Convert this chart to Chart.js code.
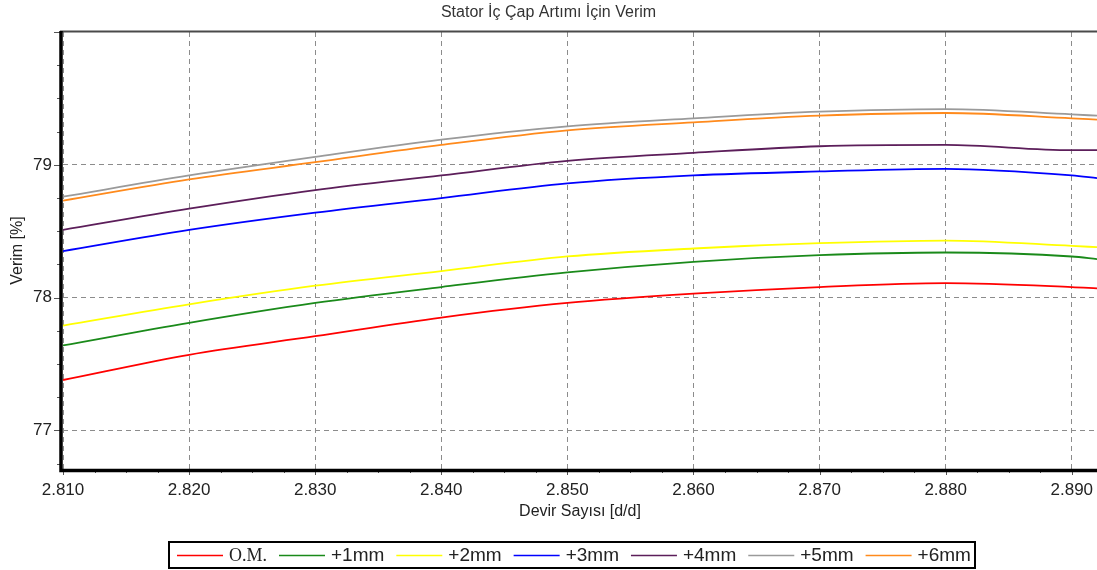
<!DOCTYPE html>
<html lang="tr">
<head>
  <meta charset="UTF-8" />
  <title>Stator İç Çap Artımı İçin Verim</title>
  <script src="https://cdn.jsdelivr.net/npm/chart.js"></script>
  <style>
    html, body {
      margin: 0;
      padding: 0;
      background: #fff;
    }
    #chart-container {
      width: 1097px;
      height: 570px;
    }
  </style>
</head>
<body>
  <div id="chart-container">
    <canvas id="verimChart" width="1097" height="570"></canvas>
  </div>

  <script>
    // devir sayısı (x) ve her seri için okunan verim değerleri
    const devir = [2.81, 2.82, 2.83, 2.84, 2.85, 2.86, 2.87, 2.88, 2.89, 2.892];
    const om   = [77.38, 77.57, 77.71, 77.85, 77.96, 78.03, 78.08, 78.11, 78.08, 78.07];
    const mm1  = [77.64, 77.81, 77.96, 78.08, 78.19, 78.27, 78.32, 78.34, 78.31, 78.29];
    const mm2  = [77.79, 77.95, 78.09, 78.20, 78.31, 78.37, 78.41, 78.43, 78.39, 78.38];
    const mm3  = [78.35, 78.51, 78.64, 78.75, 78.86, 78.92, 78.95, 78.97, 78.92, 78.90];
    const mm4  = [78.51, 78.67, 78.81, 78.92, 79.03, 79.09, 79.14, 79.15, 79.11, 79.11];
    const mm5  = [78.76, 78.92, 79.06, 79.19, 79.29, 79.35, 79.40, 79.42, 79.38, 79.37];
    const mm6  = [78.73, 78.89, 79.02, 79.15, 79.26, 79.32, 79.37, 79.39, 79.35, 79.34];

    const seriesNames  = ['O.M.', '+1mm', '+2mm', '+3mm', '+4mm', '+5mm', '+6mm'];
    const seriesValues = [om, mm1, mm2, mm3, mm4, mm5, mm6];
    const seriesColors = ['#ff0000', '#1a8a1a', '#ffff00', '#0000ff', '#5c1e5a', '#9a9a9a', '#ff8a1c'];

    const xTicks = [2.81, 2.82, 2.83, 2.84, 2.85, 2.86, 2.87, 2.88, 2.89];
    const yTicks = [77, 78, 79];

    const datasets = seriesNames.map((name, i) => ({
      label: name,
      data: devir.map((x, j) => ({ x: x, y: seriesValues[i][j] })),
      borderColor: seriesColors[i],
      backgroundColor: seriesColors[i],
      borderWidth: 1.8,
      pointRadius: 0,
      cubicInterpolationMode: 'monotone',
      fill: false
    }));

    // eksen çizgileri, küçük çentikler ve çerçeveli açıklama
    const decorPlugin = {
      id: 'decor',
      afterDraw(chart) {
        const ctx = chart.ctx;
        const area = chart.chartArea;
        const xs = chart.scales.x;
        const ys = chart.scales.y;
        ctx.save();

        // üst çerçeve
        ctx.strokeStyle = '#4a4a4a';
        ctx.lineWidth = 2;
        ctx.beginPath();
        ctx.moveTo(area.left - 3, area.top - 0.5);
        ctx.lineTo(area.right, area.top - 0.5);
        ctx.stroke();

        // çentikler
        ctx.strokeStyle = '#555';
        ctx.lineWidth = 1;
        ctx.beginPath();
        for (let i = 0; i <= 33; i++) {
          const v = 2.81 + i * 0.0025;
          if (v > xs.max) break;
          const px = Math.round(xs.getPixelForValue(v)) + 0.5;
          const len = i % 4 === 0 ? 6 : 4;
          ctx.moveTo(px, area.bottom);
          ctx.lineTo(px, area.bottom + len);
        }
        for (let i = 0; i <= 14; i++) {
          const v = 76.75 + i * 0.25;
          if (v > ys.max) break;
          const py = Math.round(ys.getPixelForValue(v)) + 0.5;
          const len = Number.isInteger(v) ? 7 : 4;
          ctx.moveTo(area.left - 2, py);
          ctx.lineTo(area.left - 2 - len, py);
        }
        ctx.stroke();

        // kalın sol ve alt eksen
        ctx.strokeStyle = '#000';
        ctx.lineWidth = 3.5;
        ctx.beginPath();
        ctx.moveTo(area.left - 2, area.top - 1);
        ctx.lineTo(area.left - 2, area.bottom + 1.5);
        ctx.lineTo(area.right, area.bottom + 1.5);
        ctx.stroke();

        // açıklama kutusu
        const boxL = 169, boxT = 542, boxR = 975, boxB = 568;
        ctx.lineWidth = 2;
        ctx.strokeStyle = '#000';
        ctx.strokeRect(boxL, boxT, boxR - boxL, boxB - boxT);

        let x = 177;
        const cy = 555;
        ctx.textBaseline = 'middle';
        ctx.textAlign = 'left';
        chart.data.datasets.forEach((ds, i) => {
          ctx.strokeStyle = ds.borderColor;
          ctx.lineWidth = 1.5;
          ctx.beginPath();
          ctx.moveTo(x, cy + 0.5);
          ctx.lineTo(x + 46, cy + 0.5);
          ctx.stroke();
          x += 52;
          ctx.font = i === 0 ? '18px "Liberation Serif"' : '19px "Liberation Sans"';
          ctx.fillStyle = '#222';
          ctx.fillText(ds.label, x, cy + 1);
          x += ctx.measureText(ds.label).width + 12;
        });

        ctx.restore();
      }
    };

    new Chart(document.getElementById('verimChart'), {
      type: 'line',
      data: { datasets: datasets },
      plugins: [decorPlugin],
      options: {
        responsive: false,
        devicePixelRatio: 1,
        animation: false,
        layout: { padding: 0 },
        plugins: {
          legend: { display: false },
          tooltip: { enabled: false },
          title: {
            display: true,
            text: 'Stator İç Çap Artımı İçin Verim',
            color: '#333',
            font: { family: 'Liberation Sans', size: 16, weight: 'normal' },
            padding: { top: 3, bottom: 9.8 }
          }
        },
        scales: {
          x: {
            type: 'linear',
            min: 2.81,
            max: 2.892,
            afterBuildTicks: (s) => { s.ticks = xTicks.map(v => ({ value: v })); },
            afterFit: (s) => {
              s.height = 101;
              s.paddingLeft = 0;
              s.paddingRight = 0;
            },
            ticks: {
              callback: (v) => Number(v).toFixed(3),
              color: '#222',
              font: { family: 'Liberation Sans', size: 17 },
              padding: 11,
              maxRotation: 0,
              autoSkip: false
            },
            grid: { color: '#8c8c8c', lineWidth: 1, drawTicks: false },
            border: { display: false, dash: [5, 4] },
            title: {
              display: true,
              text: 'Devir Sayısı [d/d]',
              color: '#222',
              font: { family: 'Liberation Sans', size: 16 },
              padding: { top: 0, bottom: 49 }
            }
          },
          y: {
            min: 76.71,
            max: 80,
            afterBuildTicks: (s) => { s.ticks = yTicks.map(v => ({ value: v })); },
            afterFit: (s) => {
              s.width = 63;
              s.paddingTop = 0;
              s.paddingBottom = 0;
            },
            ticks: {
              color: '#222',
              font: { family: 'Liberation Sans', size: 17 },
              padding: 11
            },
            grid: { color: '#8c8c8c', lineWidth: 1, drawTicks: false },
            border: { display: false, dash: [5, 4] },
            title: {
              display: true,
              text: 'Verim [%]',
              color: '#222',
              font: { family: 'Liberation Sans', size: 16 },
              padding: { top: 8, bottom: 0 }
            }
          }
        }
      }
    });
  </script>
</body>
</html>
